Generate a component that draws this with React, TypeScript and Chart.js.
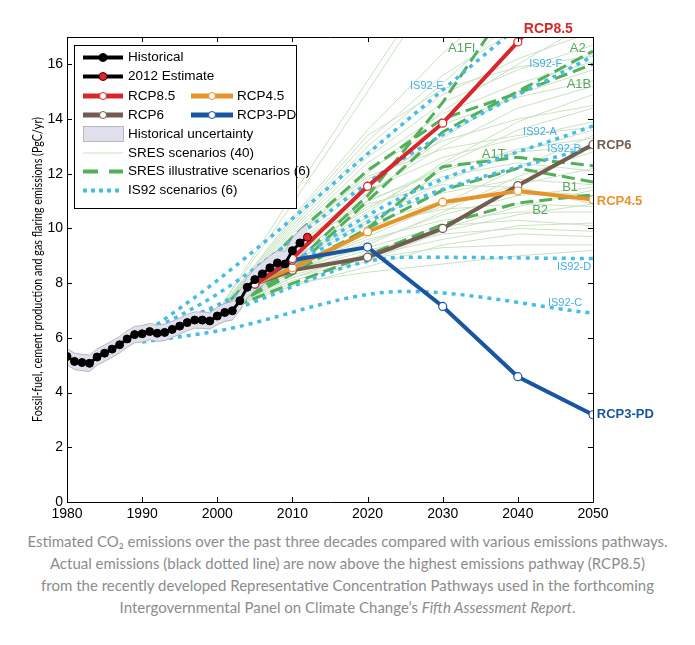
import React, { useEffect, useRef } from 'react';
import { Chart, registerables } from 'chart.js';

Chart.register(...registerables);

// ---------- data ----------
const histYears = [1980, 1981, 1982, 1983, 1984, 1985, 1986, 1987, 1988, 1989, 1990, 1991, 1992, 1993, 1994, 1995, 1996, 1997, 1998, 1999, 2000, 2001, 2002, 2003, 2004, 2005, 2006, 2007, 2008, 2009, 2010, 2011];
const histValues = [5.32, 5.14, 5.10, 5.07, 5.30, 5.44, 5.59, 5.75, 5.96, 6.12, 6.15, 6.23, 6.17, 6.20, 6.31, 6.43, 6.56, 6.65, 6.65, 6.62, 6.80, 6.93, 6.99, 7.36, 7.85, 8.13, 8.34, 8.56, 8.74, 8.70, 9.19, 9.47];
const estYears = [2011, 2012];
const estValues = [9.47, 9.68];

const bandYears = [1980, 1981, 1982, 1983, 1984, 1985, 1986, 1987, 1988, 1989, 1990, 1991, 1992, 1993, 1994, 1995, 1996, 1997, 1998, 1999, 2000, 2001, 2002, 2003, 2004, 2005, 2006, 2007, 2008, 2009, 2010, 2011, 2012];
const bandLow = [5.02, 4.84, 4.80, 4.77, 5.00, 5.14, 5.29, 5.45, 5.66, 5.82, 5.85, 5.93, 5.87, 5.90, 6.01, 6.13, 6.26, 6.35, 6.35, 6.32, 6.48, 6.60, 6.65, 7.00, 7.47, 7.73, 7.92, 8.12, 8.29, 8.24, 8.72, 8.99, 9.19];
const bandHigh = [5.62, 5.44, 5.40, 5.37, 5.60, 5.74, 5.89, 6.05, 6.26, 6.42, 6.45, 6.53, 6.47, 6.50, 6.61, 6.73, 6.86, 6.95, 6.95, 6.92, 7.12, 7.26, 7.33, 7.72, 8.23, 8.53, 8.76, 9.00, 9.19, 9.16, 9.66, 9.95, 10.17];

const rcpYears = [2005, 2010, 2020, 2030, 2040, 2050];
const rcp85 = [7.97, 8.90, 11.54, 13.85, 16.82, 20.0];
const rcp6 = [7.97, 8.47, 8.95, 10.0, 11.57, 13.07];
const rcp45 = [7.97, 8.56, 9.88, 10.96, 11.37, 11.06];
const rcp3pd = [7.97, 8.84, 9.32, 7.15, 4.58, 3.19];

const sresYears = [2000, 2010, 2020, 2030, 2040, 2050];
const sresA1FI = [6.9, 8.65, 11.19, 14.61, 18.66, 23.1];
const sresA2 = [6.9, 8.46, 11.01, 13.53, 15.01, 16.49];
const sresA1B = [6.9, 9.68, 12.12, 14.01, 14.95, 16.01];
const sresA1T = [6.9, 8.33, 10.0, 12.26, 12.6, 12.29];
const sresB1 = [6.9, 8.5, 10.0, 11.4, 12.2, 11.7];
const sresB2 = [6.9, 7.99, 9.02, 10.15, 10.93, 11.23];

const sresThin = [
  [6.95, 8.0, 8.4, 8.7, 9.0, 9.2],
  [6.95, 8.2, 8.9, 9.3, 9.4, 9.4],
  [6.95, 7.9, 8.6, 9.4, 9.8, 9.7],
  [6.95, 8.4, 9.2, 9.8, 10.0, 9.9],
  [6.95, 8.3, 9.0, 9.6, 10.1, 10.2],
  [6.95, 8.6, 9.6, 10.3, 10.6, 10.6],
  [6.95, 8.1, 8.8, 9.9, 10.5, 10.9],
  [6.95, 8.8, 10.1, 10.7, 10.9, 10.8],
  [6.95, 8.5, 9.5, 10.5, 11.2, 11.5],
  [6.95, 8.9, 10.4, 11.3, 11.8, 11.6],
  [6.95, 8.7, 9.9, 10.8, 11.6, 12.2],
  [6.95, 9.0, 10.8, 11.9, 12.4, 12.1],
  [6.95, 8.4, 9.4, 10.6, 11.9, 12.8],
  [6.95, 9.2, 11.0, 12.1, 12.9, 13.3],
  [6.95, 8.8, 10.3, 11.7, 12.8, 13.6],
  [6.95, 9.4, 11.4, 12.6, 13.3, 13.9],
  [6.95, 9.1, 10.7, 12.3, 13.6, 14.4],
  [6.95, 9.6, 11.8, 13.2, 14.0, 14.5],
  [6.95, 8.9, 10.6, 12.4, 13.9, 14.9],
  [6.95, 9.3, 11.3, 13.0, 14.4, 15.2],
  [6.95, 9.7, 12.1, 13.8, 14.8, 15.4],
  [6.95, 9.5, 11.6, 13.4, 14.9, 15.8],
  [6.95, 9.8, 12.4, 14.2, 15.3, 16.1],
  [6.95, 9.2, 11.2, 13.3, 15.0, 16.4],
  [6.95, 9.9, 12.6, 14.6, 15.8, 16.7],
  [6.95, 10.0, 12.8, 14.9, 16.2, 17.2],
  [6.95, 9.6, 12.0, 14.3, 16.0, 17.6],
  [6.95, 10.2, 13.2, 15.6, 17.3, 18.5],
  [6.95, 10.1, 13.0, 15.3, 17.8, 19.9],
  [6.95, 10.4, 13.6, 16.4, 18.8, 21.0],
  [6.95, 10.9, 15.0, 19.2, 23.0, 27.0],
  [6.95, 9.4, 11.0, 12.2, 12.8, 13.0],
  [6.95, 8.6, 9.7, 10.9, 12.2, 13.4],
  [6.95, 9.0, 10.2, 11.0, 11.4, 11.2],
  [6.95, 8.2, 9.1, 10.0, 10.8, 11.4],
  [6.95, 9.3, 10.9, 11.6, 11.5, 10.9],
  [6.95, 8.5, 9.3, 10.1, 10.3, 10.1],
  [6.95, 10.3, 13.4, 15.1, 15.9, 16.3],
  [6.95, 9.7, 11.9, 12.9, 13.4, 13.7],
  [6.95, 11.2, 15.4, 19.5, 23.5, 27.5],
];

const is92Years = [1990, 2000, 2025, 2050];
const is92A = [6.1, 7.2, 11.2, 13.75];
const is92B = [6.1, 7.1, 10.9, 13.0];
const is92C = [5.85, 6.25, 7.7, 6.9];
const is92D = [6.1, 6.85, 8.95, 8.9];
const is92E = [6.1, 8.1, 13.9, 19.7];
const is92F = [6.1, 7.6, 12.6, 16.3];

const xTicks = [1980, 1990, 2000, 2010, 2020, 2030, 2040, 2050];
const yTicks = [0, 2, 4, 6, 8, 10, 12, 14, 16];

const captionLines = [
  'Estimated CO₂ emissions over the past three decades compared with various emissions pathways.',
  'Actual emissions (black dotted line) are now above the highest emissions pathway (RCP8.5)',
  'from the recently developed Representative Concentration Pathways used in the forthcoming',
];
const captionLast = 'Intergovernmental Panel on Climate Change’s ';
const captionItalic = 'Fifth Assessment Report';

// ---------- styles ----------
const C_RCP85 = '#d8272c';
const C_RCP45 = '#e8922a';
const C_RCP6 = '#725d4f';
const C_RCP3 = '#1a55a1';
const C_SRES = '#52b05b';
const C_THIN = '#cae2c2';
const C_IS92 = '#46bce6';
const C_IS92_TXT = '#47ade0';
const C_SRES_TXT = '#56a860';
const C_BAND = '#e0e0ec';
const C_BAND_EDGE = '#a8a8b8';
const SANS = '"Liberation Sans", Arial, Helvetica, sans-serif';
const HUMAN = 'Lato, "Open Sans", sans-serif';

const plotLabels = [
  { text: 'RCP8.5', x: 2040.8, y: 17.27, color: C_RCP85, font: `bold 14px ${SANS}` },
  { text: 'A1FI', x: 2030.7, y: 16.6, color: C_SRES_TXT, font: `13px ${SANS}` },
  { text: 'A2', x: 2046.9, y: 16.6, color: C_SRES_TXT, font: `13px ${SANS}` },
  { text: 'A1B', x: 2046.5, y: 15.27, color: C_SRES_TXT, font: `13px ${SANS}` },
  { text: 'IS92-F', x: 2041.5, y: 16.0, color: C_IS92_TXT, font: `11px ${SANS}` },
  { text: 'IS92-E', x: 2025.65, y: 15.2, color: C_IS92_TXT, font: `11px ${SANS}` },
  { text: 'IS92-A', x: 2040.7, y: 13.52, color: C_IS92_TXT, font: `11px ${SANS}` },
  { text: 'IS92-B', x: 2043.9, y: 12.89, color: C_IS92_TXT, font: `11px ${SANS}` },
  { text: 'A1T', x: 2035.2, y: 12.71, color: C_SRES_TXT, font: `13px ${SANS}` },
  { text: 'B1', x: 2045.9, y: 11.5, color: C_SRES_TXT, font: `13px ${SANS}` },
  { text: 'B2', x: 2041.9, y: 10.66, color: C_SRES_TXT, font: `13px ${SANS}` },
  { text: 'RCP6', x: 2050.5, y: 13.04, color: C_RCP6, font: `bold 13px ${SANS}` },
  { text: 'RCP4.5', x: 2050.5, y: 10.99, color: C_RCP45, font: `bold 13px ${SANS}` },
  { text: 'IS92-D', x: 2045.2, y: 8.61, color: C_IS92_TXT, font: `11px ${SANS}` },
  { text: 'IS92-C', x: 2044.0, y: 7.29, color: C_IS92_TXT, font: `11px ${SANS}` },
  { text: 'RCP3-PD', x: 2050.5, y: 3.19, color: C_RCP3, font: `bold 13px ${SANS}` },
];

const pts = (xs: number[], ys: number[]) => xs.map((x, i) => ({ x, y: ys[i] }));

function drawLegend(ctx: CanvasRenderingContext2D) {
  ctx.save();
  const bx = 74.5, by = 45.5, bw = 222, bh = 163;
  ctx.fillStyle = '#fff';
  ctx.fillRect(bx, by, bw, bh);
  ctx.strokeStyle = '#000';
  ctx.lineWidth = 1;
  ctx.strokeRect(bx, by, bw, bh);
  ctx.font = `13.5px ${SANS}`;
  ctx.textBaseline = 'middle';
  ctx.textAlign = 'left';

  const line = (x1: number, x2: number, y: number, color: string, w: number, dash: number[] = []) => {
    ctx.save();
    ctx.strokeStyle = color;
    ctx.lineWidth = w;
    ctx.setLineDash(dash);
    ctx.beginPath();
    ctx.moveTo(x1, y);
    ctx.lineTo(x2, y);
    ctx.stroke();
    ctx.restore();
  };
  const dot = (x: number, y: number, r: number, fill: string, stroke: string, w: number) => {
    ctx.save();
    ctx.beginPath();
    ctx.arc(x, y, r, 0, Math.PI * 2);
    ctx.fillStyle = fill;
    ctx.fill();
    ctx.lineWidth = w;
    ctx.strokeStyle = stroke;
    ctx.stroke();
    ctx.restore();
  };
  const text = (t: string, x: number, y: number) => {
    ctx.fillStyle = '#000';
    ctx.fillText(t, x, y);
  };
  const l1 = 83, l2 = 123, m1 = 103, t1 = 128;
  const k1 = 191, k2 = 233, m2 = 212, t2 = 237;
  const rows = [57.5, 76.5, 96, 115, 134, 153, 171.5, 190.5];

  line(l1, l2, rows[0], '#000', 4);
  dot(m1, rows[0], 4, '#000', '#000', 1);
  text('Historical', t1, rows[0]);

  line(l1, l2, rows[1], '#000', 4);
  dot(m1, rows[1], 4, '#e0262b', '#400', 1);
  text('2012 Estimate', t1, rows[1]);

  line(l1, l2, rows[2], C_RCP85, 5);
  dot(m1, rows[2], 3.5, '#fff', C_RCP85, 1);
  text('RCP8.5', t1, rows[2]);
  line(k1, k2, rows[2], C_RCP45, 5);
  dot(m2, rows[2], 3.5, '#fff', C_RCP45, 1);
  text('RCP4.5', t2, rows[2]);

  line(l1, l2, rows[3], C_RCP6, 5);
  dot(m1, rows[3], 3.5, '#fff', C_RCP6, 1);
  text('RCP6', t1, rows[3]);
  line(k1, k2, rows[3], C_RCP3, 5);
  dot(m2, rows[3], 3.5, '#fff', C_RCP3, 1);
  text('RCP3-PD', t2, rows[3]);

  ctx.fillStyle = C_BAND;
  ctx.fillRect(l1 + 0.5, rows[4] - 7.5, 40, 15);
  ctx.strokeStyle = C_BAND_EDGE;
  ctx.lineWidth = 0.8;
  ctx.strokeRect(l1 + 0.5, rows[4] - 7.5, 40, 15);
  text('Historical uncertainty', t1, rows[4]);

  line(l1, l2, rows[5], C_THIN, 1);
  text('SRES scenarios (40)', t1, rows[5]);

  line(l1, l2, rows[6], C_SRES, 4, [15, 11]);
  text('SRES illustrative scenarios (6)', t1, rows[6]);

  line(l1, l2, rows[7], C_IS92, 4, [4, 4]);
  text('IS92 scenarios (6)', t1, rows[7]);
  ctx.restore();
}

const overlayPlugin = {
  id: 'overlay',
  afterDatasetsDraw(chart: any) {
    const { ctx, scales } = chart;
    ctx.save();
    ctx.textBaseline = 'middle';
    ctx.textAlign = 'left';
    for (const l of plotLabels) {
      ctx.font = l.font;
      ctx.fillStyle = l.color;
      ctx.fillText(l.text, scales.x.getPixelForValue(l.x), scales.y.getPixelForValue(l.y));
    }
    ctx.restore();
  },
  afterDraw(chart: any) {
    const { ctx, chartArea, scales } = chart;
    const { left, right, top, bottom } = chartArea;
    ctx.save();
    ctx.strokeStyle = '#000';
    ctx.lineWidth = 1;
    ctx.beginPath();
    ctx.rect(Math.round(left) + 0.5, Math.round(top) + 0.5, Math.round(right - left), Math.round(bottom - top));
    ctx.stroke();
    const tl = 5;
    ctx.beginPath();
    for (const v of xTicks) {
      const px = Math.round(scales.x.getPixelForValue(v)) + 0.5;
      ctx.moveTo(px, bottom);
      ctx.lineTo(px, bottom - tl);
      ctx.moveTo(px, top);
      ctx.lineTo(px, top + tl);
    }
    for (const v of yTicks) {
      const py = Math.round(scales.y.getPixelForValue(v)) + 0.5;
      ctx.moveTo(left, py);
      ctx.lineTo(left + tl, py);
      ctx.moveTo(right, py);
      ctx.lineTo(right - tl, py);
    }
    ctx.stroke();

    // y-axis title
    const title = 'Fossil-fuel, cement production and gas flaring emissions (PgC/yr)';
    ctx.translate(38, (top + bottom) / 2);
    ctx.rotate(-Math.PI / 2);
    ctx.font = `13px ${HUMAN}`;
    const w = ctx.measureText(title).width;
    const target = 305;
    ctx.scale(target / w, 1);
    ctx.fillStyle = '#000';
    ctx.textAlign = 'center';
    ctx.textBaseline = 'middle';
    ctx.fillText(title, 0, 0);
    ctx.restore();

    drawLegend(ctx);
  },
};

export default function App() {
  const ref = useRef<HTMLCanvasElement | null>(null);

  useEffect(() => {
    if (!ref.current) return;
    const datasets: any[] = [];

    sresThin.forEach((vals, i) => {
      datasets.push({
        label: `SRES ${i + 1}`,
        data: pts(sresYears, vals),
        borderColor: C_THIN,
        borderWidth: 1,
        pointRadius: 0,
        fill: false,
        order: 8,
      });
    });

    const sresIll = [sresA1FI, sresA2, sresA1B, sresA1T, sresB1, sresB2];
    sresIll.forEach((vals, i) => {
      datasets.push({
        label: `SRES ill ${i}`,
        data: pts(sresYears, vals),
        borderColor: C_SRES,
        borderWidth: 3,
        borderDash: [13, 6],
        pointRadius: 0,
        fill: false,
        order: 7,
      });
    });

    const is92 = [is92A, is92B, is92C, is92D, is92E, is92F];
    is92.forEach((vals, i) => {
      datasets.push({
        label: `IS92 ${i}`,
        data: pts(is92Years, vals),
        borderColor: C_IS92,
        borderWidth: 3.5,
        borderDash: [4, 5],
        cubicInterpolationMode: 'monotone',
        pointRadius: 0,
        fill: false,
        order: 6,
      });
    });

    datasets.push({
      label: 'band low',
      data: pts(bandYears, bandLow),
      borderColor: C_BAND_EDGE,
      borderWidth: 0.8,
      pointRadius: 0,
      fill: false,
      order: 5,
    });
    datasets.push({
      label: 'Historical uncertainty',
      data: pts(bandYears, bandHigh),
      borderColor: C_BAND_EDGE,
      borderWidth: 0.8,
      backgroundColor: C_BAND,
      pointRadius: 0,
      fill: '-1',
      order: 5,
    });

    const rcps: [string, number[], string, number][] = [
      ['RCP6', rcp6, C_RCP6, 4],
      ['RCP4.5', rcp45, C_RCP45, 3],
      ['RCP3-PD', rcp3pd, C_RCP3, 2],
      ['RCP8.5', rcp85, C_RCP85, 1],
    ];
    rcps.forEach(([label, vals, color, order]) => {
      datasets.push({
        label,
        data: pts(rcpYears, vals),
        borderColor: color,
        borderWidth: 4,
        pointRadius: 4,
        pointBackgroundColor: '#fff',
        pointBorderColor: color,
        pointBorderWidth: 1.2,
        fill: false,
        order,
      });
    });

    datasets.push({
      label: 'Historical',
      data: pts(histYears, histValues),
      borderColor: '#000',
      borderWidth: 3,
      pointRadius: 4,
      pointBackgroundColor: '#000',
      pointBorderColor: '#000',
      pointBorderWidth: 1,
      fill: false,
      order: 0,
    });
    datasets.push({
      label: '2012 Estimate',
      data: pts(estYears, estValues),
      borderColor: '#000',
      borderWidth: 3,
      pointRadius: [0, 4],
      pointBackgroundColor: '#e0262b',
      pointBorderColor: '#500',
      pointBorderWidth: 1,
      fill: false,
      order: -1,
    });

    const chart = new Chart(ref.current, {
      type: 'line',
      data: { datasets },
      plugins: [overlayPlugin],
      options: {
        animation: false,
        responsive: false,
        devicePixelRatio: 1,
        events: [],
        layout: { padding: { left: 0, right: 102, top: 37, bottom: 0 } },
        plugins: {
          legend: { display: false },
          tooltip: { enabled: false },
        },
        scales: {
          x: {
            type: 'linear',
            min: 1980,
            max: 2050,
            afterBuildTicks: (s: any) => {
              s.ticks = xTicks.map((v) => ({ value: v }));
            },
            afterFit: (s: any) => {
              s.height = 28;
            },
            ticks: {
              callback: (v: any) => String(v),
              font: { family: SANS, size: 14 },
              color: '#000',
              padding: 4,
              maxRotation: 0,
              autoSkip: false,
            },
            grid: { display: false, drawTicks: false },
            border: { display: false },
          },
          y: {
            type: 'linear',
            min: 0,
            max: 17,
            afterBuildTicks: (s: any) => {
              s.ticks = yTicks.map((v) => ({ value: v }));
            },
            afterFit: (s: any) => {
              s.width = 67;
            },
            ticks: {
              callback: (v: any) => String(v),
              font: { family: SANS, size: 14 },
              color: '#000',
              padding: 4,
              autoSkip: false,
            },
            grid: { display: false, drawTicks: false },
            border: { display: false },
          },
        },
      } as any,
    });
    return () => chart.destroy();
  }, []);

  return (
    <div style={{ position: 'absolute', left: 0, top: 0, width: 695, height: 645, background: '#fff' }}>
      <canvas ref={ref} width={695} height={530} style={{ width: 695, height: 530, display: 'block' }} />
      <div
        style={{
          position: 'absolute',
          left: 0,
          top: 530,
          width: 695,
          textAlign: 'center',
          color: '#8c8c8c',
          fontFamily: HUMAN,
          fontSize: 15,
          lineHeight: '22px',
          whiteSpace: 'nowrap',
        }}
      >
        {captionLines.map((t, i) => (
          <div key={i}>{t}</div>
        ))}
        <div>
          {captionLast}
          <i>{captionItalic}</i>.
        </div>
      </div>
    </div>
  );
}
